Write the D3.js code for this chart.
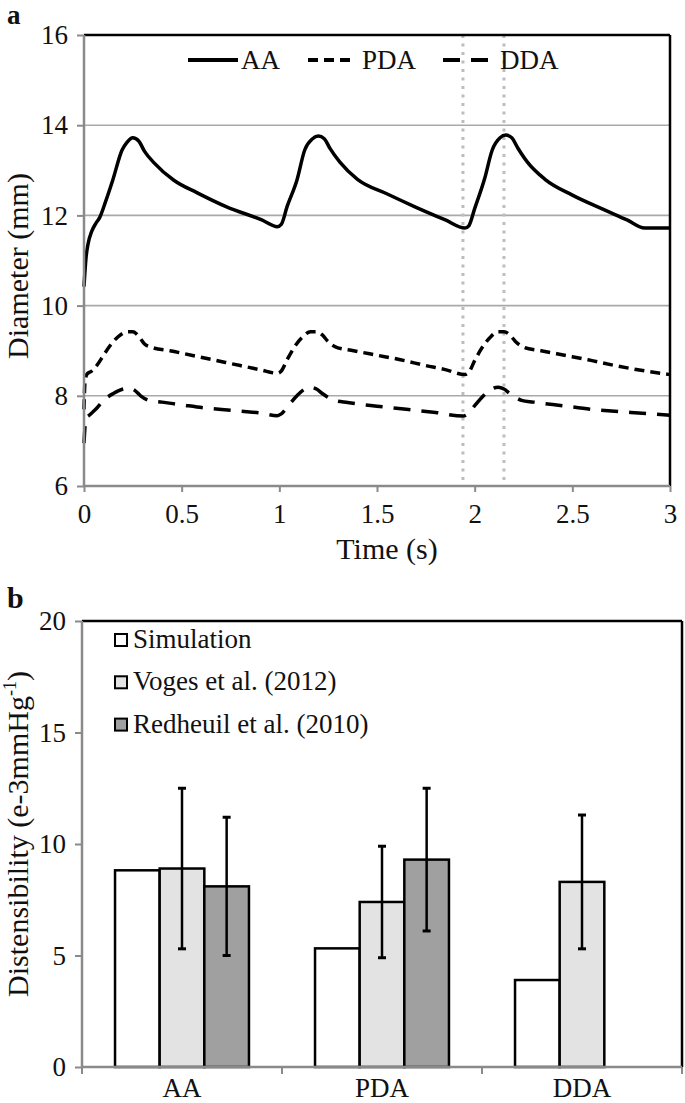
<!DOCTYPE html>
<html><head><meta charset="utf-8">
<script src="https://cdn.jsdelivr.net/npm/d3@7/dist/d3.min.js"></script>
<style>
body{margin:0;background:#fff}
svg{display:block}
text{font-family:"Liberation Serif","Times New Roman",serif;fill:#111}
</style>
</head><body>
<svg id="c" width="685" height="1103"></svg>
<script>
// ---------- Panel a data (time in s, diameter in mm) ----------
const aaTime = [0,0.01,0.02,0.04,0.06,0.08,0.11,0.147,0.195,0.22,0.25,0.28,0.31,0.36,0.46,0.58,0.73,0.91,0.99,
  1.01,1.04,1.09,1.13,1.17,1.2,1.23,1.26,1.31,1.4,1.55,1.7,1.85,1.95,
  1.97,2.0,2.05,2.09,2.13,2.16,2.19,2.22,2.27,2.36,2.5,2.65,2.78,2.87,3.0];
const aaDiam = [10.42,11.05,11.35,11.65,11.82,11.95,12.3,12.78,13.45,13.62,13.72,13.65,13.42,13.16,12.78,12.5,12.19,11.9,11.75,
  11.8,12.2,12.78,13.45,13.7,13.76,13.7,13.48,13.18,12.8,12.48,12.18,11.9,11.72,
  11.77,12.15,12.8,13.45,13.72,13.78,13.72,13.5,13.18,12.8,12.45,12.15,11.9,11.72,11.72];

const pdaTime = [0,0.005,0.015,0.04,0.07,0.1,0.14,0.18,0.22,0.25,0.28,0.31,0.35,0.44,0.55,0.66,0.8,0.9,0.99,
  1.01,1.04,1.08,1.12,1.16,1.19,1.22,1.25,1.29,1.38,1.5,1.62,1.75,1.85,1.95,
  1.97,2.0,2.04,2.08,2.12,2.15,2.18,2.21,2.25,2.34,2.46,2.58,2.72,2.86,3.0];
const pdaDiam = [7.7,8.3,8.48,8.55,8.7,8.9,9.15,9.33,9.42,9.42,9.32,9.15,9.07,9.0,8.9,8.8,8.67,8.58,8.5,
  8.55,8.8,9.1,9.31,9.42,9.42,9.35,9.2,9.08,9.0,8.9,8.8,8.67,8.58,8.47,
  8.52,8.78,9.08,9.3,9.42,9.42,9.35,9.2,9.08,9.0,8.9,8.8,8.67,8.56,8.47];

const ddaTime = [0,0.01,0.03,0.06,0.1,0.15,0.2,0.23,0.26,0.29,0.33,0.4,0.5,0.62,0.75,0.9,0.99,
  1.01,1.05,1.09,1.13,1.16,1.19,1.22,1.28,1.35,1.5,1.65,1.8,1.94,
  1.96,2.0,2.04,2.08,2.12,2.15,2.18,2.24,2.3,2.45,2.6,2.8,3.0];
const ddaDiam = [6.95,7.5,7.58,7.7,7.9,8.05,8.15,8.17,8.12,8.0,7.9,7.86,7.8,7.73,7.68,7.62,7.56,
  7.6,7.8,8.0,8.15,8.19,8.15,8.05,7.9,7.85,7.77,7.7,7.63,7.55,
  7.58,7.78,7.98,8.13,8.19,8.15,8.05,7.9,7.86,7.78,7.7,7.63,7.57];

const seriesNamesA = ["AA","PDA","DDA"];
const yTicksA = [6,8,10,12,14,16];
const xTicksA = [0,0.5,1,1.5,2,2.5,3];
const markerTimes = [1.94,2.15];

// ---------- Panel b data ----------
const categories = ["AA","PDA","DDA"];
const seriesNamesB = ["Simulation","Voges et al. (2012)","Redheuil et al. (2010)"];
const simValues = [8.82,5.32,3.9];
const vogesValues = [8.9,7.4,8.3];
const vogesSD = [3.6,2.5,3.0];
const redheuilValues = [8.1,9.3,null];
const redheuilSD = [3.1,3.2,null];
const yTicksB = [0,5,10,15,20];

// ---------- styling ----------
const FS = 27;
const TITLE_FS = 30;
const AXIS_GRAY = "#8a8a8a";
const GRID_GRAY = "#a9a9a9";
const svg = d3.select("#c");

function styleAxis(g){
  g.select(".domain").remove();
  g.selectAll(".tick line").attr("stroke",AXIS_GRAY).attr("stroke-width",2);
  g.selectAll(".tick text").attr("font-size",FS).attr("fill","#111")
    .style("font-family","'Liberation Serif','Times New Roman',serif");
}

// =================== Panel a ===================
const xa = d3.scaleLinear().domain([0,3]).range([84,670]);
const ya = d3.scaleLinear().domain([6,16]).range([486,35]);

svg.append("text").attr("x",7).attr("y",24).attr("font-size",27).attr("font-weight","bold").text("a");

// gridlines
svg.append("g").selectAll("line").data(yTicksA.filter(v=>v>6&&v<16)).join("line")
  .attr("x1",xa(0)).attr("x2",xa(3)).attr("y1",d=>ya(d)).attr("y2",d=>ya(d))
  .attr("stroke",GRID_GRAY).attr("stroke-width",1.6);

// dotted markers
svg.append("g").selectAll("line").data(markerTimes).join("line")
  .attr("x1",d=>xa(d)).attr("x2",d=>xa(d)).attr("y1",ya(16)).attr("y2",ya(6))
  .attr("stroke","#bdbdbd").attr("stroke-width",3).attr("stroke-dasharray","3,5.5");

// frame
svg.append("line").attr("x1",xa(0)).attr("x2",xa(3)).attr("y1",ya(16)).attr("y2",ya(16)).attr("stroke","#000").attr("stroke-width",2.5);
svg.append("line").attr("x1",xa(3)).attr("x2",xa(3)).attr("y1",ya(16)).attr("y2",ya(6)).attr("stroke","#000").attr("stroke-width",2.5);

const lineA = d3.line().x(d=>xa(d[0])).y(d=>ya(d[1])).curve(d3.curveMonotoneX);
const seriesA = [
  {name:"AA", pts:d3.zip(aaTime,aaDiam), dash:null},
  {name:"PDA", pts:d3.zip(pdaTime,pdaDiam), dash:"10,6"},
  {name:"DDA", pts:d3.zip(ddaTime,ddaDiam), dash:"17,11"}
];
svg.append("g").selectAll("path").data(seriesA).join("path")
  .attr("d",d=>lineA(d.pts)).attr("fill","none").attr("stroke","#000")
  .attr("stroke-width",3.5).attr("stroke-linejoin","round")
  .attr("stroke-dasharray",d=>d.dash);

// axes
svg.append("line").attr("x1",xa(0)).attr("x2",xa(0)).attr("y1",ya(16)).attr("y2",ya(6)).attr("stroke",AXIS_GRAY).attr("stroke-width",2.5);
svg.append("line").attr("x1",xa(0)).attr("x2",xa(3)).attr("y1",ya(6)).attr("y2",ya(6)).attr("stroke",AXIS_GRAY).attr("stroke-width",2.5);
svg.append("g").attr("transform",`translate(${xa(0)},0)`)
  .call(d3.axisLeft(ya).tickValues(yTicksA).tickSize(7).tickPadding(9).tickFormat(d3.format("d")))
  .call(styleAxis);
svg.append("g").attr("transform",`translate(0,${ya(6)})`)
  .call(d3.axisBottom(xa).tickValues(xTicksA).tickSize(6).tickPadding(12).tickFormat(d=>String(d)))
  .call(styleAxis);

svg.append("text").attr("x",387).attr("y",559).attr("text-anchor","middle").attr("font-size",TITLE_FS).text("Time (s)");
svg.append("text").attr("transform","translate(28,266) rotate(-90)").attr("text-anchor","middle").attr("font-size",TITLE_FS).text("Diameter (mm)");

// legend a
const legA = [{x1:188,x2:238,tx:241},{x1:308,x2:353,tx:362},{x1:443,x2:489,tx:500}];
seriesA.forEach((s,i)=>{
  const L = legA[i];
  svg.append("line").attr("x1",L.x1).attr("x2",L.x2).attr("y1",60).attr("y2",60)
    .attr("stroke","#000").attr("stroke-width",4).attr("stroke-dasharray",s.dash);
  svg.append("text").attr("x",L.tx).attr("y",69).attr("font-size",FS).text(seriesNamesA[i]);
});

// =================== Panel b ===================
const x0 = d3.scaleBand().domain(categories).range([82,682]).padding(0);
const x1 = d3.scaleBand().domain(seriesNamesB).range([0,x0.bandwidth()]).paddingInner(0).paddingOuter(0.74);
const yb = d3.scaleLinear().domain([0,20]).range([1067,621]);
const fills = ["#ffffff","#e3e3e3","#a0a0a0"];

svg.append("text").attr("x",7).attr("y",608).attr("font-size",30).attr("font-weight","bold").text("b");

const barData = [];
categories.forEach((c,i)=>{
  const vals = [simValues[i],vogesValues[i],redheuilValues[i]];
  const sds = [null,vogesSD[i],redheuilSD[i]];
  seriesNamesB.forEach((s,j)=>{
    if(vals[j]!=null) barData.push({c,s,j,v:vals[j],sd:sds[j]});
  });
});

svg.append("g").selectAll("rect").data(barData).join("rect")
  .attr("x",d=>x0(d.c)+x1(d.s)).attr("width",x1.bandwidth())
  .attr("y",d=>yb(d.v)).attr("height",d=>yb(0)-yb(d.v))
  .attr("fill",d=>fills[d.j]).attr("stroke","#000").attr("stroke-width",2.5);

const eb = barData.filter(d=>d.sd!=null);
const ebG = svg.append("g").attr("stroke","#000").attr("stroke-width",2.5);
eb.forEach(d=>{
  const cx = x0(d.c)+x1(d.s)+x1.bandwidth()/2;
  ebG.append("line").attr("x1",cx).attr("x2",cx).attr("y1",yb(d.v+d.sd)).attr("y2",yb(d.v-d.sd));
  [d.v+d.sd,d.v-d.sd].forEach(v=>{
    ebG.append("line").attr("x1",cx-4).attr("x2",cx+4).attr("y1",yb(v)).attr("y2",yb(v)).attr("stroke-width",3);
  });
});

// frame b
svg.append("line").attr("x1",82).attr("x2",682).attr("y1",yb(20)).attr("y2",yb(20)).attr("stroke","#000").attr("stroke-width",2.5);
svg.append("line").attr("x1",682).attr("x2",682).attr("y1",yb(20)).attr("y2",yb(0)).attr("stroke","#000").attr("stroke-width",2.5);
svg.append("line").attr("x1",82).attr("x2",82).attr("y1",yb(20)).attr("y2",yb(0)).attr("stroke",AXIS_GRAY).attr("stroke-width",2.5);
svg.append("line").attr("x1",82).attr("x2",682).attr("y1",yb(0)).attr("y2",yb(0)).attr("stroke",AXIS_GRAY).attr("stroke-width",2.5);

svg.append("g").attr("transform","translate(82,0)")
  .call(d3.axisLeft(yb).tickValues(yTicksB).tickSize(7).tickPadding(9).tickFormat(d3.format("d")))
  .call(styleAxis);

// category boundary ticks
const bounds = categories.map(c=>x0(c)).concat([x0(categories[categories.length-1])+x0.bandwidth()]);
svg.append("g").selectAll("line").data(bounds).join("line")
  .attr("x1",d=>d).attr("x2",d=>d).attr("y1",yb(0)).attr("y2",yb(0)+7)
  .attr("stroke",AXIS_GRAY).attr("stroke-width",2);
svg.append("g").selectAll("text").data(categories).join("text")
  .attr("x",c=>x0(c)+x0.bandwidth()/2).attr("y",1097).attr("text-anchor","middle").attr("font-size",FS).text(c=>c);

// y label b
const yl = svg.append("text").attr("transform","translate(28,834) rotate(-90)").attr("text-anchor","middle").attr("font-size",TITLE_FS);
yl.append("tspan").text("Distensibility (e-3mmHg");
yl.append("tspan").attr("font-size",18).attr("dy",-12).text("-1");
yl.append("tspan").attr("dy",12).text(")");

// legend b
seriesNamesB.forEach((s,i)=>{
  const cy = 640 + i*42.3;
  svg.append("rect").attr("x",115).attr("y",cy-6).attr("width",12).attr("height",12)
    .attr("fill",fills[i]).attr("stroke","#000").attr("stroke-width",2);
  svg.append("text").attr("x",133).attr("y",cy+8).attr("font-size",FS).text(s);
});
</script>
</body></html>
